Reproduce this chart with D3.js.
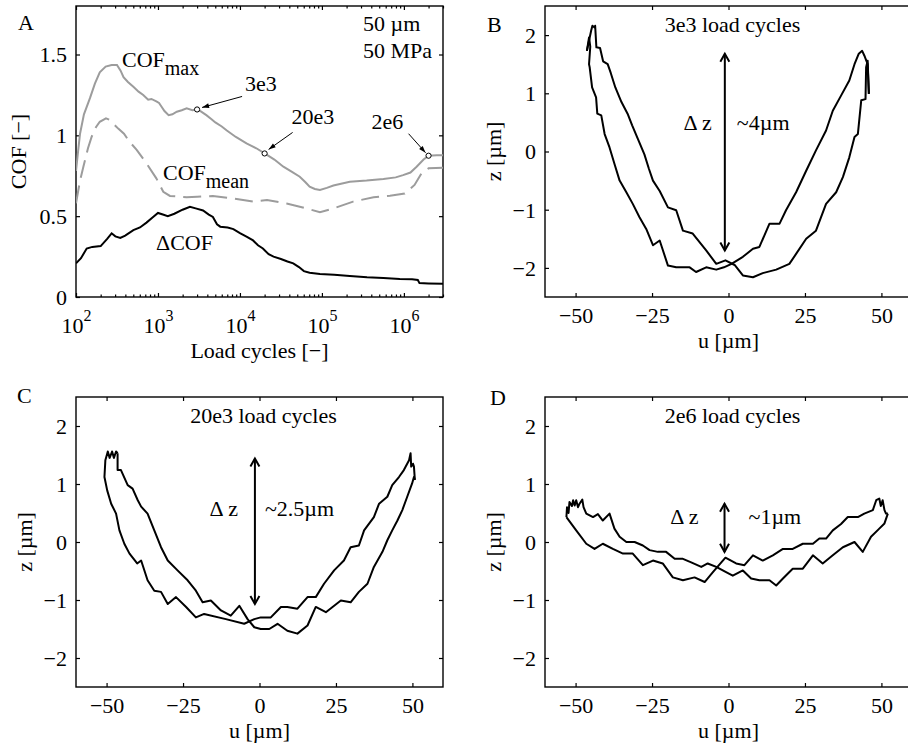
<!DOCTYPE html>
<html>
<head>
<meta charset="utf-8">
<script src="https://cdn.jsdelivr.net/npm/d3@7"></script>
<style>
  body { margin: 0; background: #fff; }
  svg text { font-family: "Liberation Serif", "Times New Roman", serif; font-size: 22px; fill: #000; }
</style>
</head>
<body>
<svg id="fig" width="908" height="745"></svg>
<script>
// ---- Panel A: COF vs load cycles, [cycles, COF] ----
const cofMax = [[100,0.78],[106,0.9],[112,1.01],[125,1.13],[148,1.23],[170,1.32],[195,1.39],[230,1.425],[272,1.435],
  [316,1.435],[350,1.40],[380,1.36],[430,1.33],[501,1.30],[580,1.27],[661,1.25],[759,1.22],[832,1.225],[955,1.21],
  [1030,1.20],[1096,1.18],[1200,1.15],[1349,1.125],[1500,1.13],[1698,1.146],[1950,1.155],[2239,1.167],[2630,1.155],
  [3000,1.16],[3300,1.15],[3890,1.125],[4500,1.10],[5012,1.08],[6000,1.055],[6918,1.03],[8913,0.99],[12023,0.95],
  [15849,0.92],[20000,0.888],[26303,0.85],[33884,0.806],[42658,0.775],[53703,0.744],[63000,0.71],[70795,0.682],
  [82000,0.668],[94624,0.662],[114815,0.675],[138038,0.69],[218776,0.713],[350752,0.72],[562341,0.73],[794328,0.74],
  [977237,0.754],[1202264,0.77],[1428894,0.806],[1737801,0.85],[2000000,0.874],[2511886,0.877],[3000000,0.877]];

const cofMean = [[100,0.58],[112,0.72],[123,0.806],[140,0.92],[155,0.99],[175,1.05],[195,1.084],[232,1.105],[260,1.095],
  [288,1.07],[330,1.04],[385,1.01],[450,0.96],[550,0.91],[724,0.827],[955,0.734],[1161,0.651],[1400,0.625],[2239,0.617],
  [3000,0.62],[4677,0.625],[8318,0.61],[14454,0.59],[21380,0.60],[37154,0.578],[64565,0.548],[94624,0.524],
  [138038,0.548],[239883,0.59],[426580,0.617],[676083,0.627],[1023293,0.64],[1348963,0.693],[1640590,0.765],
  [2000000,0.796],[3000000,0.80]];

const deltaCof = [[100,0.208],[115,0.24],[135,0.30],[158,0.31],[200,0.315],[240,0.36],[272,0.394],[302,0.375],[347,0.365],
  [398,0.38],[501,0.414],[603,0.43],[724,0.46],[851,0.49],[1000,0.52],[1148,0.51],[1318,0.50],[1585,0.515],[1995,0.54],
  [2455,0.558],[2884,0.548],[3548,0.535],[4169,0.51],[4677,0.495],[5248,0.45],[5754,0.435],[7079,0.43],[8318,0.42],
  [10000,0.395],[12023,0.373],[14454,0.35],[16596,0.32],[19055,0.30],[22387,0.265],[25704,0.25],[31623,0.235],
  [38019,0.22],[44668,0.208],[52481,0.185],[60256,0.16],[70795,0.15],[94624,0.142],[141254,0.138],[218776,0.13],
  [354813,0.122],[562341,0.118],[891251,0.112],[1258925,0.11],[1479108,0.105],[1548817,0.086],[1995262,0.084],
  [3000000,0.082]];

// marked states on the COFmax curve
const markers = [
  { label: '3e3',  n: 3000,    cof: 1.16 },
  { label: '20e3', n: 20000,   cof: 0.888 },
  { label: '2e6',  n: 2000000, cof: 0.874 }
];

// ---- Panels B-D: hysteresis loops, [u (µm), z (µm)] ----
const loopB1 = [[-46.3,1.73],[-45.6,1.96],[-45.2,1.8],[-45.6,1.5],[-45.4,1.45],[-44.6,1.10],[-43.3,0.93],[-42.9,0.65],
  [-41.6,0.62],[-40.5,0.30],[-38.9,0.07],[-37.3,-0.21],[-35.6,-0.50],[-33.4,-0.70],[-31.3,-0.90],[-29.1,-1.13],
  [-26.9,-1.33],[-24.7,-1.61],[-22.5,-1.53],[-19.8,-1.96],[-17.1,-1.99],[-12.7,-1.99],[-10.6,-2.07],[-7.3,-1.99],
  [-4,-2.03],[-1.5,-1.99],[1,-1.93],[4.7,-1.81],[8,-1.67],[10.1,-1.64],[13.4,-1.24],[16.7,-1.24],[18.8,-1.01],
  [22.1,-0.70],[25.4,-0.33],[28.6,0.02],[31.9,0.36],[34.1,0.70],[36.8,0.96],[39.5,1.22],[41.2,1.50],[42.6,1.68],
  [43.7,1.73],[44.4,1.65],[45.5,1.50],[45.9,0.99]];
const loopB2 = [[-46.3,1.73],[-44.9,2.08],[-44.5,2.16],[-43.8,2.13],[-43.6,2.16],[-43.2,1.79],[-42,1.78],[-41,1.55],
  [-39.5,1.5],[-38.5,1.35],[-37,1.1],[-35,0.85],[-33,0.65],[-31.5,0.45],[-29.5,0.2],[-27.5,-0.05],[-26,-0.3],
  [-24.7,-0.5],[-22.5,-0.68],[-19.8,-0.96],[-17.1,-1.01],[-14.9,-1.36],[-11.7,-1.41],[-7.3,-1.70],[-4,-1.93],
  [-1,-1.87],[2,-1.95],[4.7,-2.13],[8,-2.16],[11.2,-2.09],[15.6,-2.03],[19.9,-1.93],[22.1,-1.76],[25.4,-1.50],
  [28.6,-1.36],[31.9,-0.9],[35.2,-0.70],[37.4,-0.44],[39.5,-0.10],[41.2,0.25],[42.3,0.30],[43.4,0.88],[44.8,0.9],
  [45,1.45],[45.5,1.56],[45.9,0.99]];

const loopC1 = [[-46.4,1.53],[-46.9,1.56],[-47.6,1.45],[-48.2,1.56],[-49,1.45],[-49.6,1.56],[-50.4,1.41],[-50.7,1.12],
  [-49.8,0.89],[-48.5,0.66],[-46.9,0.49],[-45.8,0.20],[-44.2,-0.03],[-42.5,-0.20],[-40,-0.37],[-38.7,-0.32],
  [-36.6,-0.66],[-34.4,-0.84],[-32.2,-0.86],[-30,-1.07],[-27.3,-0.95],[-24,-1.12],[-20.8,-1.30],[-18.1,-1.24],
  [-11,-1.33],[-5,-1.41],[-1.7,-1.33],[0.4,-1.30],[3.7,-1.30],[7,-1.12],[9.1,-1.12],[12.4,-1.15],[15.7,-0.95],
  [18.4,-0.95],[21.1,-0.72],[24.4,-0.49],[27.6,-0.32],[29.8,-0.09],[32.5,-0.06],[34.2,0.20],[37.4,0.43],[39.1,0.66],
  [41.8,0.78],[43.4,0.98],[45.6,1.12],[47.2,1.24],[48.9,1.41],[49.4,1.53],[49.6,1.3],[50.2,1.35],[50.5,1.30],[50.8,1.07]];
const loopC2 = [[-46.4,1.53],[-46.4,1.24],[-45.3,1.24],[-43.1,0.98],[-41.5,0.92],[-39.8,0.72],[-38.7,0.61],[-36.6,0.49],
  [-34.4,0.20],[-32.2,-0.09],[-30,-0.32],[-26.8,-0.49],[-23.5,-0.66],[-20.8,-0.84],[-18.6,-1.04],[-15.9,-1.01],
  [-12.6,-1.18],[-9.4,-1.27],[-6.6,-1.10],[-3.9,-1.33],[-1.7,-1.47],[0.4,-1.50],[3.2,-1.50],[5.9,-1.41],[9.1,-1.53],
  [12.4,-1.58],[15.7,-1.44],[18.4,-1.12],[21.7,-1.21],[26.6,-1.01],[29.8,-1.04],[32.5,-0.86],[35.3,-0.72],[37.4,-0.43],
  [40.2,-0.17],[41.8,0.03],[43.4,0.20],[45.1,0.37],[46.7,0.55],[48.3,0.78],[49.9,1.01],[50.5,1.12],[50.8,1.07]];

const loopD1 = [[-53,0.43],[-52.8,0.6],[-52.3,0.5],[-52,0.69],[-51.2,0.62],[-50.8,0.72],[-50.3,0.63],[-49.8,0.72],
  [-49.2,0.6],[-48.7,0.66],[-47.8,0.73],[-47.4,0.6],[-46.5,0.49],[-44.3,0.43],[-42.7,0.48],[-41.1,0.37],[-38.9,0.49],
  [-37.3,0.23],[-35.6,0.09],[-33.4,0.0],[-30.7,0.0],[-28,-0.06],[-25.8,-0.14],[-23.1,-0.17],[-20.4,-0.17],[-17.6,-0.29],
  [-14.9,-0.29],[-12.2,-0.35],[-8.9,-0.43],[-6.8,-0.37],[-4,-0.43],[-0.8,-0.52],[1.4,-0.58],[4.7,-0.49],[7.4,-0.63],
  [10.1,-0.66],[13.4,-0.66],[15.6,-0.75],[17.8,-0.63],[21,-0.46],[24.3,-0.46],[27.6,-0.23],[30.8,-0.37],[34.1,-0.23],
  [37.4,-0.09],[41.2,0.0],[43.9,-0.17],[46.6,0.09],[49.3,0.23],[51,0.32],[52.1,0.49]];
const loopD2 = [[-53,0.43],[-49.8,0.20],[-46.5,-0.03],[-43.8,-0.12],[-41.1,-0.03],[-37.8,-0.12],[-34.5,-0.20],
  [-31.3,-0.20],[-28,-0.40],[-24.7,-0.32],[-21.5,-0.37],[-18.2,-0.61],[-14.9,-0.66],[-11.1,-0.61],[-7.8,-0.69],
  [-5.1,-0.52],[-1,-0.27],[2.5,-0.37],[5.2,-0.40],[8,-0.23],[11.2,-0.32],[14.5,-0.23],[17.8,-0.12],[21,-0.12],
  [24.3,-0.03],[27.6,-0.03],[29.7,0.06],[31.9,0.06],[34.1,0.20],[36.8,0.31],[39,0.43],[42.3,0.43],[44.4,0.49],
  [47.2,0.55],[48.3,0.72],[49.3,0.75],[49.8,0.62],[50.4,0.72],[51,0.55],[51.5,0.49],[52.1,0.49]];

// Δz arrows: [u, zTop, zBottom, z of label baseline]
const dzB = [-1.2, 1.68, -1.70, 0.37];
const dzC = [-1.5, 1.44, -1.07, 0.44];
const dzD = [-1.3, 0.66, -0.17, 0.31];

const loopTicksX = [-50, -25, 0, 25, 50];
const loopTicksZ = [-2, -1, 0, 1, 2];
const cofTicks = [0, 0.5, 1, 1.5];
const decadeTicks = [1e2, 1e3, 1e4, 1e5, 1e6];

// ---------------------------------------------------------------
const svg = d3.select('#fig');
const TICK = 4;
const PW = 367;

function frame(left, top, h, x, y, xTicks, yTicks, xMinor, fmt) {
  const g = svg.append('g');
  const bottom = top + h;

  const axB = g.append('g').attr('transform', `translate(0,${bottom})`)
    .call(d3.axisBottom(x).tickValues(xTicks).tickSize(-TICK).tickSizeOuter(0).tickFormat(fmt));
  g.append('g').attr('transform', `translate(0,${top})`)
    .call(d3.axisTop(x).tickValues(xTicks).tickSize(-TICK).tickSizeOuter(0).tickFormat(''));
  const axL = g.append('g').attr('transform', `translate(${left},0)`)
    .call(d3.axisLeft(y).tickValues(yTicks).tickSize(-TICK).tickSizeOuter(0).tickFormat(fmt));
  g.append('g').attr('transform', `translate(${left + PW},0)`)
    .call(d3.axisRight(y).tickValues(yTicks).tickSize(-TICK).tickSizeOuter(0).tickFormat(''));

  if (xMinor) {
    g.append('g').attr('transform', `translate(0,${bottom})`)
      .call(d3.axisBottom(x).tickValues(xMinor).tickSize(-2.5).tickSizeOuter(0).tickFormat(''));
    g.append('g').attr('transform', `translate(0,${top})`)
      .call(d3.axisTop(x).tickValues(xMinor).tickSize(-2.5).tickSizeOuter(0).tickFormat(''));
  }

  g.selectAll('.domain').remove();
  g.selectAll('.tick line').attr('stroke', '#000').attr('stroke-width', 1.2);
  axB.selectAll('text').attr('y', 26).attr('dy', null);
  axL.selectAll('text').attr('x', -9).attr('dy', '0.34em');

  g.append('rect')
    .attr('x', left).attr('y', top).attr('width', PW).attr('height', h)
    .attr('fill', 'none').attr('stroke', '#000').attr('stroke-width', 1.4);
  return { g, axB, axL };
}

function clipFor(id, left, top, h) {
  svg.append('clipPath').attr('id', id)
    .append('rect').attr('x', left).attr('y', top).attr('width', PW).attr('height', h);
  return `url(#${id})`;
}

function doubleArrow(g, x1, y1, x2, y2, head, spread, width) {
  g.append('line').attr('x1', x1).attr('y1', y1).attr('x2', x2).attr('y2', y2)
    .attr('stroke', '#000').attr('stroke-width', width);
  [[x1, y1, 1], [x2, y2, -1]].forEach(([x, y, s]) => {
    g.append('path')
      .attr('d', `M${x - spread},${y + s * head}L${x},${y}L${x + spread},${y + s * head}`)
      .attr('fill', 'none').attr('stroke', '#000').attr('stroke-width', width);
  });
}

// ---------------- Panel A ----------------
{
  const left = 76, top = 6, h = 291;
  const x = d3.scaleLog().domain([1e2, 3e6]).range([left, left + PW]);
  const y = d3.scaleLinear().domain([0, 1.8]).range([top + h, top]);
  const minor = x.ticks().filter(d => decadeTicks.indexOf(d) < 0);
  const f = frame(left, top, h, x, y, decadeTicks, cofTicks, minor, d3.format(''));

  f.axB.selectAll('text').attr('y', 36).each(function (d) {
    const t = d3.select(this).text('10');
    t.append('tspan').attr('dy', -12).style('font-size', '16px').text(Math.round(Math.log10(d)));
  });

  const clip = clipFor('clipA', left, top, h);
  const line = d3.line().x(d => x(d[0])).y(d => y(d[1]));
  const pg = svg.append('g').attr('clip-path', clip);
  pg.append('path').datum(cofMax).attr('d', line)
    .attr('fill', 'none').attr('stroke', '#9c9c9c').attr('stroke-width', 2);
  pg.append('path').datum(cofMean).attr('d', line)
    .attr('fill', 'none').attr('stroke', '#9c9c9c').attr('stroke-width', 2).attr('stroke-dasharray', '18,8');
  pg.append('path').datum(deltaCof).attr('d', line)
    .attr('fill', 'none').attr('stroke', '#000').attr('stroke-width', 2);

  // markers + arrow annotations
  const ann = svg.append('g');
  const labelOff = { '3e3': [48, -18], '20e3': [27, -29], '2e6': [-57, -27] };
  const arrowOff = { '3e3': [[45, -13], [5, -2]], '20e3': [[28, -21], [4, -4]], '2e6': [[-20, -22], [-3, -3]] };
  markers.forEach(m => {
    const mx = x(m.n), my = y(m.cof);
    const [[ax, ay], [bx, by]] = arrowOff[m.label];
    const x1 = mx + ax, y1 = my + ay, x2 = mx + bx, y2 = my + by;
    ann.append('line').attr('x1', x1).attr('y1', y1).attr('x2', x2).attr('y2', y2)
      .attr('stroke', '#000').attr('stroke-width', 1);
    const ang = Math.atan2(y2 - y1, x2 - x1);
    const hl = 7, hw = 2.4;
    const p1 = [x2 - hl * Math.cos(ang) + hw * Math.sin(ang), y2 - hl * Math.sin(ang) - hw * Math.cos(ang)];
    const p2 = [x2 - hl * Math.cos(ang) - hw * Math.sin(ang), y2 - hl * Math.sin(ang) + hw * Math.cos(ang)];
    ann.append('path').attr('d', `M${x2},${y2}L${p1}L${p2}Z`).attr('fill', '#000');
    ann.append('circle').attr('cx', mx).attr('cy', my).attr('r', 2.6)
      .attr('fill', '#fff').attr('stroke', '#000').attr('stroke-width', 1);
    ann.append('text').attr('x', mx + labelOff[m.label][0]).attr('y', my + labelOff[m.label][1])
      .text(m.label);
  });

  const tMax = ann.append('text').attr('x', 122).attr('y', 67).text('COF');
  tMax.append('tspan').attr('dy', 8).style('font-size', '20px').text('max');
  const tMean = ann.append('text').attr('x', 163).attr('y', 180).text('COF');
  tMean.append('tspan').attr('dy', 8).style('font-size', '20px').text('mean');
  ann.append('text').attr('x', 156).attr('y', 250).text('\u0394COF');
  ann.append('text').attr('x', 363).attr('y', 31).text('50 \u00b5m');
  ann.append('text').attr('x', 363).attr('y', 58).text('50 MPa');

  svg.append('text').attr('x', left + PW / 2).attr('y', 358).attr('text-anchor', 'middle').text('Load cycles [\u2212]');
  svg.append('text').attr('transform', `translate(26,${top + h / 2}) rotate(-90)`)
    .attr('text-anchor', 'middle').text('COF [\u2212]');
  svg.append('text').attr('x', 18).attr('y', 30).text('A');
}

// ---------------- Panels B, C, D ----------------
function loopPanel(id, letter, left, top, h, title, loops, dz, dzText, gaps, letterPos, yLabelX) {
  const x = d3.scaleLinear().domain([-60, 60]).range([left, left + PW]);
  const y = d3.scaleLinear().domain([-2.5, 2.5]).range([top + h, top]);
  frame(left, top, h, x, y, loopTicksX, loopTicksZ, null, d3.format('d'));

  const clip = clipFor('clip' + id, left, top, h);
  const line = d3.line().x(d => x(d[0])).y(d => y(d[1]));
  const pg = svg.append('g').attr('clip-path', clip);
  loops.forEach(l => {
    pg.append('path').datum(l).attr('d', line)
      .attr('fill', 'none').attr('stroke', '#000').attr('stroke-width', 2).attr('stroke-linejoin', 'round');
  });

  const ag = svg.append('g');
  doubleArrow(ag, x(dz[0]), y(dz[1]), x(dz[0]), y(dz[2]), 8, 4.5, 2);
  ag.append('text').attr('x', x(dz[0]) - gaps[0]).attr('y', y(dz[3])).attr('text-anchor', 'end').text('\u0394\u2009z');
  ag.append('text').attr('x', x(dz[0]) + gaps[1]).attr('y', y(dz[3])).text(dzText);

  svg.append('text').attr('x', x(0) + 4).attr('y', top + 26).attr('text-anchor', 'middle').text(title);
  svg.append('text').attr('x', x(0)).attr('y', top + h + 51).attr('text-anchor', 'middle').text('u [\u00b5m]');
  svg.append('text').attr('transform', `translate(${yLabelX},${top + h / 2}) rotate(-90)`)
    .attr('text-anchor', 'middle').text('z [\u00b5m]');
  svg.append('text').attr('x', letterPos[0]).attr('y', letterPos[1]).text(letter);
}

loopPanel('B', 'B', 545, 6, 291, '3e3 load cycles', [loopB1, loopB2], dzB, '~4\u00b5m', [13, 12], [487, 32], 501);
loopPanel('C', 'C', 76, 397, 290, '20e3 load cycles', [loopC1, loopC2], dzC, '~2.5\u00b5m', [17, 10], [17, 403], 32);
loopPanel('D', 'D', 545, 397, 290, '2e6 load cycles', [loopD1, loopD2], dzD, '~1\u00b5m', [26, 24], [490, 405], 501);
</script>
</body>
</html>
